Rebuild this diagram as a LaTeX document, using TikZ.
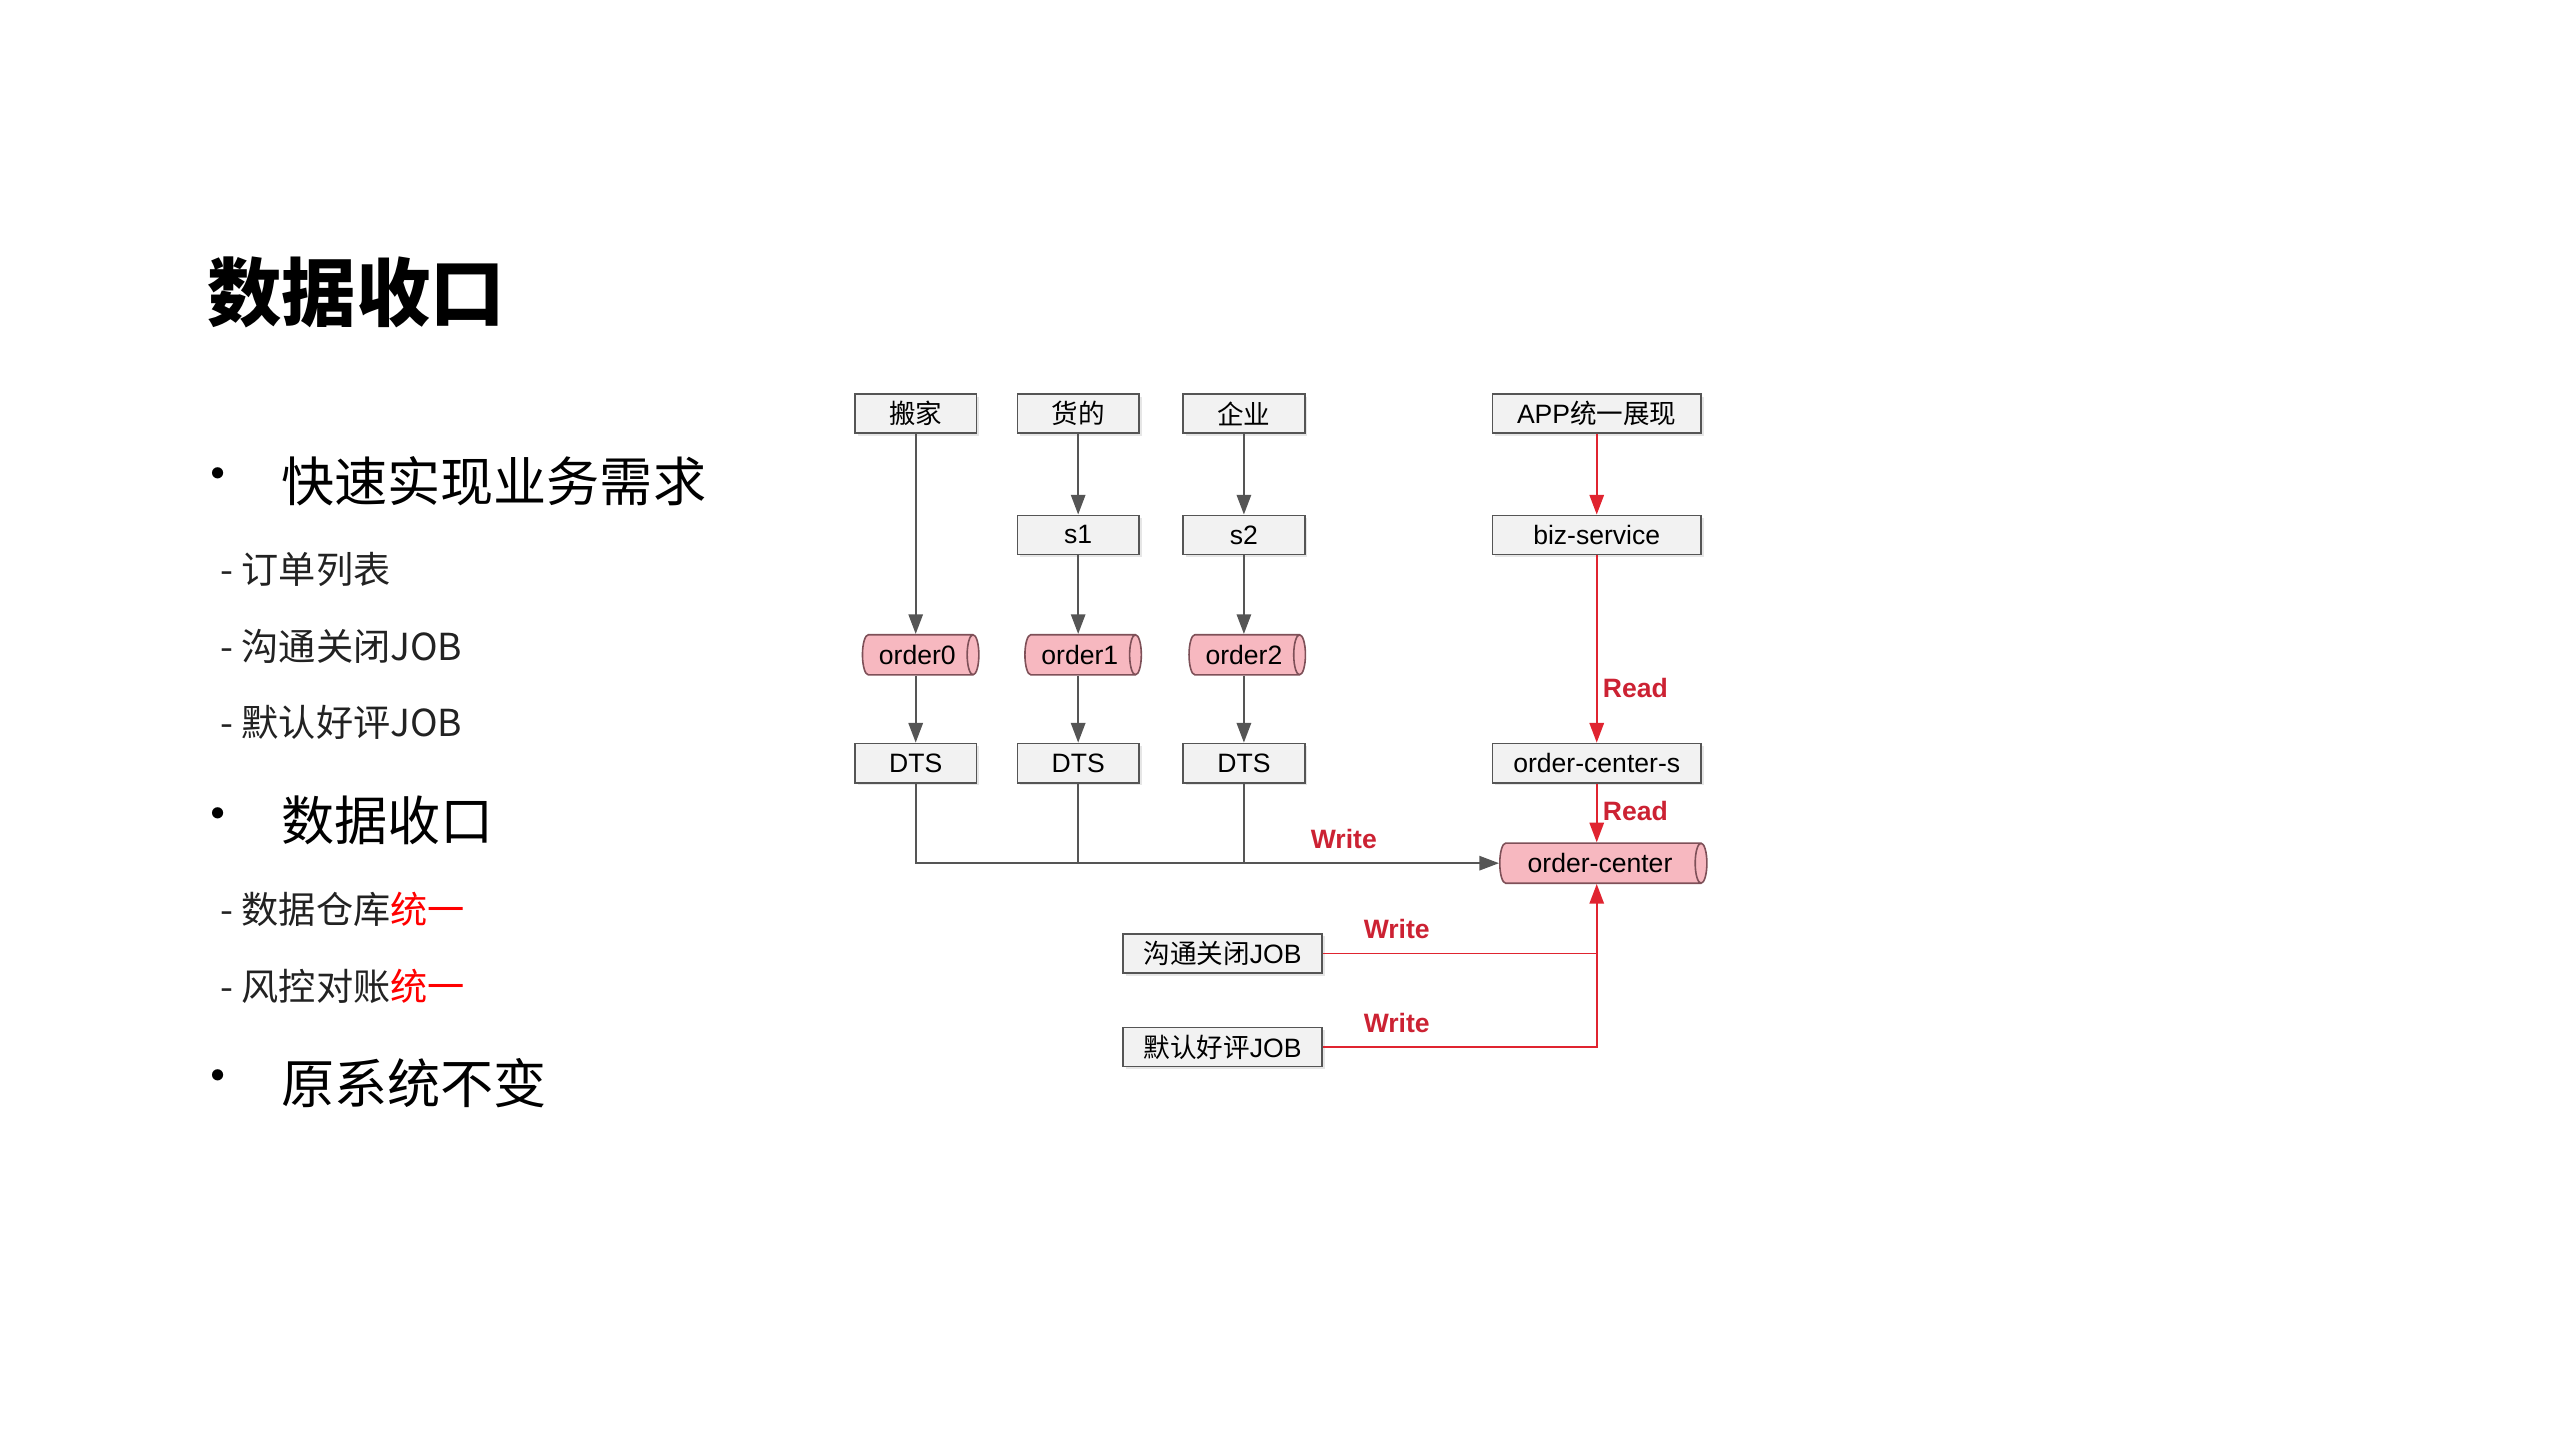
\documentclass[tikz,border=0pt]{standalone}
\usepackage{fontspec}
\setmainfont{Liberation Sans}
\newfontfamily\cjk{Noto Sans CJK SC}
\usepackage{tikz}
\usetikzlibrary{arrows.meta,shapes.geometric,shadows}

\definecolor{boxline}{HTML}{555555}
\definecolor{boxfill}{HTML}{F2F2F2}
\definecolor{dbline}{HTML}{7E5058}
\definecolor{dbfill}{HTML}{F7B8C0}
\definecolor{flowgray}{HTML}{555555}
\definecolor{flowred}{HTML}{E02430}
\definecolor{lblred}{HTML}{CC2233}
\definecolor{hilite}{HTML}{FF0000}
\definecolor{txt}{HTML}{222222}

\tikzset{
    box/.style={draw=boxline, fill=boxfill, line width=0.6pt, minimum width=16.1mm, minimum height=5.2mm,
        inner sep=0pt, font=\fontsize{10}{12}\selectfont,
        drop shadow={opacity=0.2, shadow xshift=0.35mm, shadow yshift=-0.35mm}},
    widebox/.style={box, minimum width=27.6mm},
    jobbox/.style={box, minimum width=26.3mm},
    db/.style={cylinder, aspect=0.6, draw=dbline, fill=dbfill, line width=0.6pt, minimum height=15.4mm,
        minimum width=5.3mm, inner sep=0pt, font=\fontsize{10}{12}\selectfont},
    flow/.style={draw=flowgray, line width=0.7pt, -{Triangle[length=2.6mm,width=1.9mm]}},
    plain/.style={draw=flowgray, line width=0.7pt},
    rflow/.style={draw=flowred, line width=0.7pt, -{Triangle[length=2.6mm,width=1.9mm]}},
    rplain/.style={draw=flowred, line width=0.7pt},
    lbl/.style={text=lblred, font=\bfseries\fontsize{10}{12}\selectfont, inner sep=1pt},
    bullet/.style={anchor=center, inner sep=0pt, font=\cjk\fontsize{20}{24}\selectfont},
    head/.style={anchor=west, inner sep=0pt, font=\cjk\fontsize{20}{24}\selectfont},
    sub/.style={anchor=west, inner sep=0pt, text=txt, font=\cjk\fontsize{14}{17}\selectfont}
}

\begin{document}
\begin{tikzpicture}[x=0.2171mm, y=-0.2171mm]
    \useasboundingbox (0,0) rectangle (1560,877.5);

    \node[anchor=west, inner sep=0pt, font=\cjk\bfseries\fontsize{28}{34}\selectfont] (title) at (126,178) {数据收口};

    \node[bullet] (dot1) at (133,293) {•};
    \node[head] (need) at (171,293) {快速实现业务需求};
    \node[sub] (list) at (134,347) {- 订单列表};
    \node[sub] (close) at (134,394) {- 沟通关闭JOB};
    \node[sub] (praise) at (134,440) {- 默认好评JOB};
    \node[bullet] (dot2) at (133,500) {•};
    \node[head] (merge) at (171,500) {数据收口};
    \node[sub] (dw) at (134,554) {- 数据仓库{\color{hilite}统一}};
    \node[sub] (risk) at (134,601) {- 风控对账{\color{hilite}统一}};
    \node[bullet] (dot3) at (133,660) {•};
    \node[head] (keep) at (171,660) {原系统不变};

    \node[box] (banjia) at (558,252) {\cjk 搬家};
    \node[box] (huodi) at (657,252) {\cjk 货的};
    \node[box] (qiye) at (758,252) {\cjk 企业};
    \node[widebox] (app) at (973,252) {APP{\cjk 统一展现}};
    \node[box] (s1) at (657,326) {s1};
    \node[box] (s2) at (758,326) {s2};
    \node[widebox] (biz) at (973,326) {biz-service};
    \node[db] (ord0) at (559,399) {order0};
    \node[db] (ord1) at (658,399) {order1};
    \node[db] (ord2) at (758,399) {order2};
    \node[box] (dts0) at (558,465) {DTS};
    \node[box] (dts1) at (657,465) {DTS};
    \node[box] (dts2) at (758,465) {DTS};
    \node[widebox] (ocs) at (973,465) {order-center-s};
    \node[db, minimum height=27.4mm] (oc) at (975,526) {order-center};
    \node[jobbox] (job1) at (745,581) {{\cjk 沟通关闭}JOB};
    \node[jobbox] (job2) at (745,638) {{\cjk 默认好评}JOB};
    \coordinate (jn) at (ocs.south |- oc.south);

    \draw[flow] (banjia.south) -- (banjia.south |- ord0.north);
    \draw[flow] (huodi) -- (s1);
    \draw[flow] (s1.south) -- (s1.south |- ord1.north);
    \draw[flow] (qiye) -- (s2);
    \draw[flow] (s2.south) -- (s2.south |- ord2.north);
    \draw[flow] (ord0.south -| dts0) -- (dts0);
    \draw[flow] (ord1.south -| dts1) -- (dts1);
    \draw[flow] (ord2.south -| dts2) -- (dts2);
    \draw[flow] (dts0.south) |- node[lbl, above=4pt, pos=0.867] {Write} (oc.west);
    \draw[plain] (dts1.south) -- (dts1.south |- oc.west);
    \draw[plain] (dts2.south) -- (dts2.south |- oc.west);

    \draw[rflow] (app) -- (biz);
    \draw[rflow] (biz) -- node[lbl, anchor=west, pos=0.71, xshift=1pt] {Read} (ocs);
    \draw[rflow] (ocs.south) -- node[lbl, anchor=west, pos=0.46, xshift=1pt] {Read} (ocs.south |- oc.north);
    \draw[rplain] (job1.east) -- node[lbl, above=4pt, pos=0.27] {Write} (job1.east -| jn);
    \draw[rflow] (job2.east) -| node[lbl, above=4pt, pos=0.135] {Write} (jn);
\end{tikzpicture}
\end{document}
